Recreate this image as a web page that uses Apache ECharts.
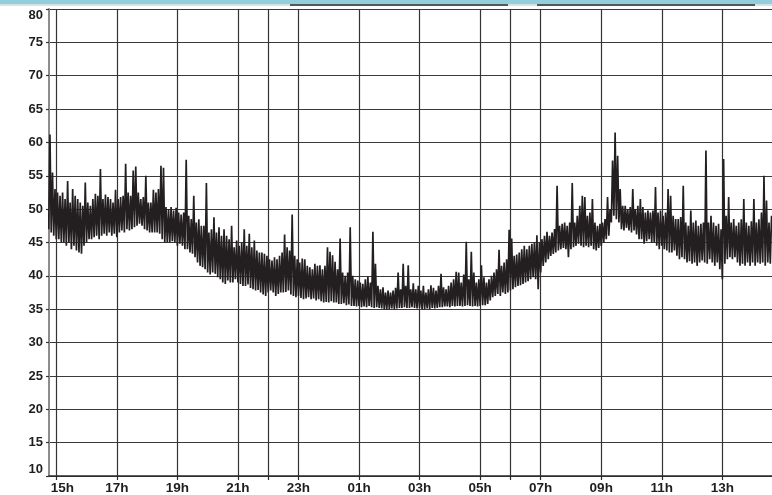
<!DOCTYPE html>
<html>
<head>
<meta charset="utf-8">
<script src="https://cdn.jsdelivr.net/npm/echarts@6/dist/echarts.min.js"></script>
<style>
html,body{margin:0;padding:0;background:#fff;}
#chart{width:772px;height:495px;}
</style>
</head>
<body>
<div id="chart"></div>
<script>
// Time of first bin (decimal hours, 14:45) and bin width in minutes
const startHour = 14.75;
const stepMin = 5;

// Per-5-minute envelope: minimum and maximum level (dB)
const lows = [
47,46.5,46,45.5,45.5,45,45,44.5,45,44,44.5,43.8,43.5,43.3,44.5,45,45.5,45.5,45.8,46,
45.5,46,46.3,46,46.5,46,46.3,45.8,46.5,46.8,46.5,47,46.8,47,47.3,47.5,47.8,47.5,47,46.8,
46.5,46.5,46.5,46.5,46.3,45.5,45,45,45,45.2,45,44.5,44.8,44.5,44,44,43.5,43.3,42.8,42,
41.5,41.3,41,40.5,40.2,40.5,40.3,39.8,39.5,39,38.8,39.3,39,39,39.5,39,38.8,38.5,38.5,38.7,
38.2,38,37.8,37.9,37.5,37.2,37,37.5,37.8,37.5,37,37.3,37.5,37.5,37.6,37.8,37.2,37,36.8,37,
36.7,36.5,36.6,36.8,36.5,36.6,36.3,36.5,36.2,36,36.1,36,36.2,36,36,35.8,35.8,35.9,35.6,35.7,
35.5,35.5,35.4,35.5,35.3,35.4,35.3,35.5,35.3,35.2,35.3,35.2,35.1,35,35,35,35.1,35,35.1,35.2,
35.2,35.3,35.2,35.2,35.3,35.2,35.1,35.2,35,35,35.1,35,35.2,35.1,35.2,35.3,35.3,35.4,35.4,35.3,
35.5,35.4,35.5,35.5,35.4,35.5,35.6,35.5,35.4,35.5,35.4,35.5,35.6,35.6,35.8,36.3,36.8,37,37.3,37,
37.5,37.3,37.5,37.8,38,38.3,38.5,38.6,38.8,39,39.2,39.5,39.8,39.5,38,40.5,41.5,42,42.5,43,
43.3,43.5,43.8,44,44.2,44,42.8,44,44.3,44.5,44.8,44.5,44.3,44.5,44.3,44.5,44,43.8,44.2,44.5,
45,45.5,46,48,49,48.5,48,47,46.8,47.2,46.8,46.5,46.8,46.2,45.5,45.5,44.8,45.2,45.5,45,
45,44.5,44,44.5,44,43.8,43.5,43.5,43.8,43,42.5,42.8,42.5,42,42.2,41.8,42,41.5,42,42.3,
42,41.8,42.5,42,41.5,42,41,39.5,41.8,42.5,42.8,42.5,42.8,42,41.5,41.8,41.5,42,41.5,42,
41.5,42,41.8,42,41.5,42,41.8
];
const highs = [
61.2,55.5,53,52.5,52,52.5,51.5,54.2,51,53,52,51.5,51,50.5,54,51,50.5,51.5,52.3,52,
56,51.5,52.2,51.8,51.5,51,52.9,51.5,51.8,52,56.8,52.5,52,55.8,56.4,52.5,51.5,51.8,55,51,
51,52.9,52.5,53,56.5,56.2,50.3,50,50.3,49.8,50.2,49.5,49.2,49.5,57.4,49,48.5,52,48,48.5,
47.5,47.5,53.9,46.5,47,48.8,46.5,47.3,46,47,46,45.5,47.5,44.3,45.3,44.5,45,47,44.5,46.3,
44.3,45.3,43.8,43.5,43.5,43.3,43,42.5,42.3,42.8,42.5,43,43.5,46.2,44.3,43.8,49.2,43,42.5,42,
42.6,42.5,41.5,41.3,41,41.8,41.5,41.6,41,41.5,44.3,43.6,43.1,42.1,41,45.6,40.5,40,40.5,47.3,
40,39.5,39.3,39,38.8,39.5,39.9,39,46.6,41.8,38.5,38,38.3,37.5,37.8,37.5,37.8,38.2,40.5,38,
41.8,38.5,41.6,38,38.9,38,38.5,37.8,38.5,37.5,38,38.6,38.2,37.8,38.5,40.3,38.3,38,38.5,39,
39.5,40.6,40.5,39,40.2,45.1,39.5,43.6,40.5,39,39.5,41.6,39.8,39,39.5,40,40.5,41,43.9,41.5,
42,42.5,46.9,45.6,43,43.2,43.5,44,44.5,44,44.5,44.8,45,46.1,45,45.5,46,46.6,46,46.5,
47,53.5,47.5,47.8,48,47.5,48,53.9,48,49,50.5,52,51.8,49,49.5,51.5,48,47.5,47.8,48,
48.5,51.8,50,57.3,61.5,58,53,50.5,50.5,50,50.3,53,50,50.5,51.5,50.3,49.5,49.8,49.5,49.8,
53.3,49.5,49.8,49,49.5,53,52,49,48.5,48.5,48.8,53.5,48,47.5,49.8,48,48.3,47.5,47.8,48,
58.8,48,49,48,47.5,47.8,47,57.5,49,51.8,48,48.5,47.5,48,48.5,51.5,48,47.5,48.2,51.5,
48,48.5,49.5,55,51.3,48,49
];

// Axis ticks (decimal hours from midnight of day 1) and their labels
const tickHours  = [15,17,19,21,23,25,27,29,31,33,35,37];
const tickLabels = ['15h','17h','19h','21h','23h','01h','03h','05h','07h','09h','11h','13h'];
const extraLines = [22,30];           // unlabelled extra vertical lines
const yMin = 10, yMax = 80, yStep = 5;
const xMin = 14.76, xMax = 38.64;

// Build the series (minimum then maximum within each bin)
const data = [];
for (let i = 0; i < lows.length; i++) {
  const t = startHour + i * stepMin / 60;
  data.push([t, lows[i]]);
  data.push([t + stepMin / 120, highs[i]]);
}

const allTicks = tickHours.concat(extraLines).sort((a,b)=>a-b);
const labelMap = {};
tickHours.forEach((h,i)=>{ labelMap[h] = tickLabels[i]; });

const chart = echarts.init(document.getElementById('chart'), null, {renderer:'canvas'});
const FONT = '"Liberation Sans", Arial, Helvetica, sans-serif';
chart.setOption({
  animation: false,
  backgroundColor: '#ffffff',
  grid: { left: 49, top: 9, right: 0, bottom: 17, containLabel: false },
  xAxis: {
    type: 'value', min: xMin, max: xMax,
    axisLine: { show: true, lineStyle: { color: '#2a2a2a', width: 1.5 } },
    axisTick: { show: true, length: 4, customValues: allTicks, lineStyle: { color: '#2a2a2a', width: 1.2 } },
    axisLabel: {
      customValues: tickHours, margin: 5,
      fontFamily: FONT, fontWeight: 'bold', fontSize: 13.5, color: '#1e1e1e',
      formatter: v => {
        const h = Math.round(v);
        const s = labelMap[h] || '';
        return h === tickHours[0] ? '{first|' + s + '}' : s;
      },
      rich: { first: { padding: [0, 0, 0, 12], fontFamily: FONT, fontWeight: 'bold', fontSize: 13.5, color: '#1e1e1e' } }
    },
    splitLine: { show: true, lineStyle: { color: '#333333', width: 1.2 } }
  },
  yAxis: {
    type: 'value', min: yMin, max: yMax, interval: yStep,
    axisLine: { show: true, lineStyle: { color: '#8c8c8c', width: 2 } },
    axisTick: { show: true, length: 3, lineStyle: { color: '#333', width: 1.2 } },
    axisLabel: { margin: 6, fontFamily: FONT, fontWeight: 'bold', fontSize: 13, color: '#1e1e1e',
      verticalAlignMaxLabel: 'top', verticalAlignMinLabel: 'bottom' },
    splitLine: { show: true, lineStyle: { color: '#3a3a3a', width: 1.2 } }
  },
  graphic: [
    { type: 'rect', silent: true, shape: { x: 0, y: 0, width: 772, height: 4 }, style: { fill: '#92cedc' } },
    { type: 'rect', silent: true, shape: { x: 0, y: 4, width: 772, height: 2 }, style: { fill: '#d6e3e6' } },
    { type: 'line', silent: true, shape: { x1: 290, y1: 5, x2: 466, y2: 5 }, style: { stroke: '#2a2a2a', lineWidth: 1.5 } },
    { type: 'line', silent: true, shape: { x1: 466, y1: 5, x2: 508, y2: 5 }, style: { stroke: '#2a2a2a', lineWidth: 1.5 } },
    { type: 'line', silent: true, shape: { x1: 537, y1: 5, x2: 755, y2: 5 }, style: { stroke: '#2a2a2a', lineWidth: 1.5 } }
  ],
  series: [{
    type: 'line', data: data, showSymbol: false, symbol: 'none',
    sampling: false, silent: true,
    lineStyle: { color: '#231f20', width: 1.7 },
    z: 3
  }]
});
</script>
</body>
</html>
